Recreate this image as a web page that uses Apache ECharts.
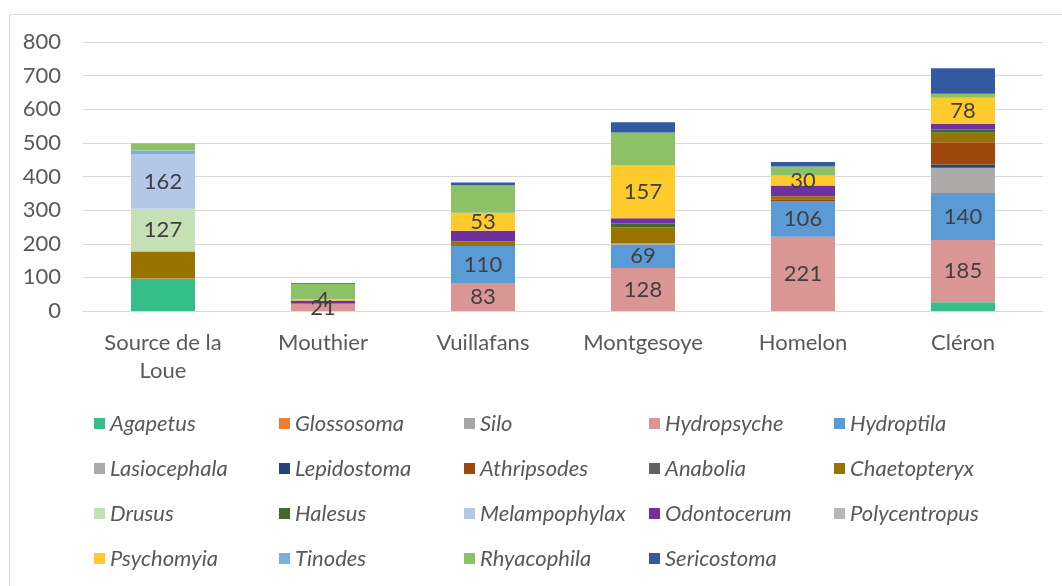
<!DOCTYPE html>
<html>
<head>
<meta charset="utf-8">
<script src="https://cdn.jsdelivr.net/npm/echarts@6/dist/echarts.min.js"></script>
<style>
html, body { margin: 0; padding: 0; background: #fff; }
#containerBar { width: 1062px; height: 586px; }
</style>
</head>
<body>
<div id="containerBar"></div>
<script>
// sites (x axis)
var sites = ['Source de la\nLoue', 'Mouthier', 'Vuillafans', 'Montgesoye', 'Homelon', 'Cléron'];
var yTicks = [0, 100, 200, 300, 400, 500, 600, 700, 800];

// counts per genus, one value per site
var agapetus      = [96, 0, 0, 0, 0, 26];
var glossosoma    = [1, 0, 0, 0, 0, 0];
var silo          = [0, 0, 0, 0, 0, 0];
var hydropsyche   = [0, 21, 83, 128, 221, 185];
var hydroptila    = [0, 0, 110, 69, 106, 140];
var lasiocephala  = [0, 0, 0, 4, 0, 75];
var lepidostoma   = [0, 0, 0, 0, 0, 10];
var athripsodes   = [0, 0, 0, 0, 5, 66];
var anabolia      = [0, 0, 0, 0, 0, 0];
var chaetopteryx  = [80, 2, 14, 47, 9, 28];
var drusus        = [127, 0, 0, 0, 0, 0];
var halesus       = [0, 0, 0, 12, 0, 10];
var melampophylax = [162, 0, 0, 0, 0, 0];
var odontocerum   = [0, 8, 32, 16, 32, 16];
var polycentropus = [0, 0, 0, 0, 0, 0];
var psychomyia    = [0, 4, 53, 157, 30, 78];
var tinodes       = [11, 0, 0, 0, 0, 0];
var rhyacophila   = [22, 46, 82, 98, 27, 12];
var sericostoma   = [0, 2, 8, 30, 13, 76];

var genera = [
    ['Agapetus', agapetus, '#36BE8A', false],
    ['Glossosoma', glossosoma, '#ED7D31', false],
    ['Silo', silo, '#A5A5A5', false],
    ['Hydropsyche', hydropsyche, '#DA9694', true],
    ['Hydroptila', hydroptila, '#5B9BD5', true],
    ['Lasiocephala', lasiocephala, '#AEAAAA', false],
    ['Lepidostoma', lepidostoma, '#264478', false],
    ['Athripsodes', athripsodes, '#9E480E', false],
    ['Anabolia', anabolia, '#636363', false],
    ['Chaetopteryx', chaetopteryx, '#997300', false],
    ['Drusus', drusus, '#C5E0B4', true],
    ['Halesus', halesus, '#43682B', false],
    ['Melampophylax', melampophylax, '#B4C7E7', true],
    ['Odontocerum', odontocerum, '#7030A0', false],
    ['Polycentropus', polycentropus, '#B7B7B7', false],
    ['Psychomyia', psychomyia, '#FFCA2C', true],
    ['Tinodes', tinodes, '#7CAFDD', false],
    ['Rhyacophila', rhyacophila, '#8CC168', false],
    ['Sericostoma', sericostoma, '#335AA1', false]
];

var font = 'Lato, "Open Sans", sans-serif';

var series = genera.map(function (g) {
    return {
        name: g[0],
        type: 'bar',
        stack: 'total',
        barWidth: 64,
        data: g[1],
        itemStyle: { color: g[2] },
        label: {
            show: g[3],
            position: 'inside',
            fontFamily: font,
            fontSize: 22,
            color: '#404040',
            formatter: function (p) { return p.value ? p.value : ''; }
        }
    };
});

var myChart = echarts.init(document.getElementById('containerBar'));
var optionBar = {
    animation: false,
    graphic: [{
        type: 'rect',
        left: 7, top: 12,
        shape: { width: 1100, height: 700 },
        style: { fill: 'none', stroke: '#D9D9D9', lineWidth: 1 },
        silent: true
    }],
    legend: {
        data: genera.map(function (g) { return g[0]; }),
        left: 89,
        top: 401,
        width: 930,
        icon: 'rect',
        itemWidth: 11,
        itemHeight: 11,
        itemGap: 10,
        textStyle: {
            fontFamily: font,
            fontSize: 22,
            fontStyle: 'italic',
            color: '#595959',
            width: 159,
            height: 35,
            lineHeight: 35
        }
    },
    grid: {
        left: 83,
        right: 19,
        top: 42,
        bottom: 275,
        containLabel: false
    },
    xAxis: {
        type: 'category',
        data: sites,
        axisLine: { lineStyle: { color: '#D9D9D9' } },
        axisTick: { show: false },
        axisLabel: {
            interval: 0,
            margin: 18,
            fontFamily: font,
            fontSize: 22,
            lineHeight: 28,
            color: '#595959'
        }
    },
    yAxis: {
        type: 'value',
        min: yTicks[0],
        max: yTicks[yTicks.length - 1],
        interval: yTicks[1] - yTicks[0],
        axisLine: { show: false },
        axisTick: { show: false },
        splitLine: { lineStyle: { color: '#D9D9D9', width: 1 } },
        axisLabel: {
            margin: 22,
            fontFamily: font,
            fontSize: 22,
            color: '#595959'
        }
    },
    series: series
};
myChart.setOption(optionBar, true);
</script>
</body>
</html>
